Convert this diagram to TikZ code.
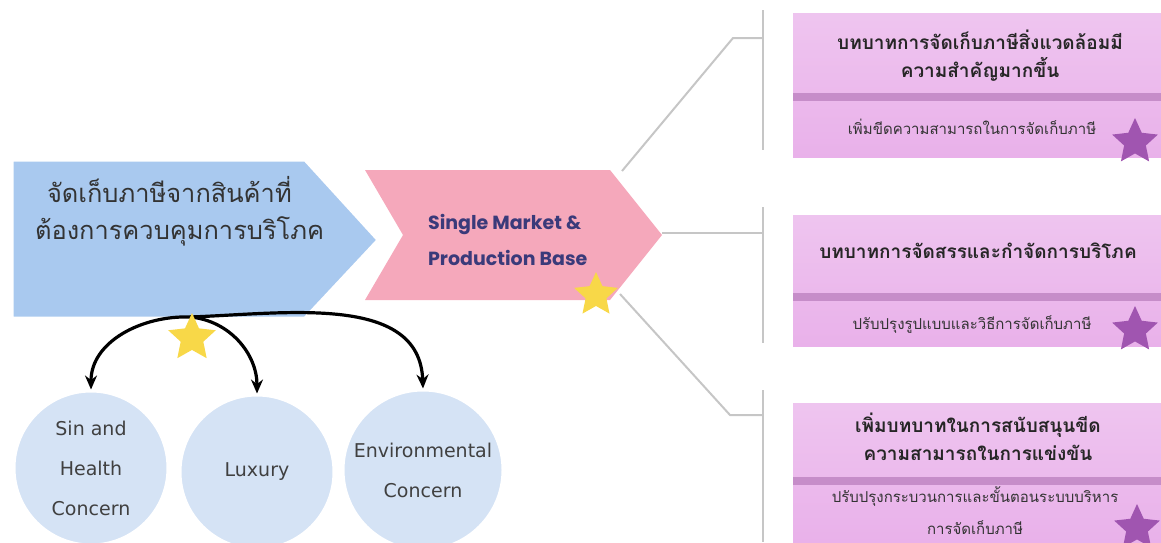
\documentclass[tikz,border=0pt]{standalone}
\usepackage{fontspec}
\setmainfont{DejaVu Sans}
\newfontfamily\thaifont[Script=Thai]{Loma}
\newfontfamily\headfont{Poppins}
\usepackage{tikz}
\usetikzlibrary{arrows.meta,shapes.geometric}
\definecolor{boxblue}{HTML}{A9C9EF}
\definecolor{chevpink}{HTML}{F5A8BB}
\definecolor{rolepink}{HTML}{E9B1EA}
\definecolor{rolebar}{HTML}{C68DC9}
\definecolor{starpurple}{HTML}{A055B0}
\definecolor{staryellow}{HTML}{F8D848}
\definecolor{linkgray}{HTML}{C6C6C6}
\definecolor{circblue}{HTML}{D5E3F5}
\definecolor{navy}{HTML}{3A3A7A}
\tikzset{
	bubble/.style={circle, fill=circblue, draw=white, line width=1.5pt, minimum size=77pt, inner sep=0pt, align=center, text=black!75, font=\fontsize{9.5}{20}\selectfont},
	goldstar/.style={star, star points=5, star point ratio=2.1, fill=staryellow, minimum size=25pt, inner sep=0pt},
	plumstar/.style={goldstar, fill=starpurple, minimum size=24pt},
	link/.style={draw=linkgray, line width=1pt},
	curl/.style={line width=1.6pt, -{Stealth[length=7pt,width=6pt]}},
	rolehead/.style={align=center, text=black!85, font=\thaifont\bfseries\fontsize{9.5}{14}\selectfont},
	rolesub/.style={align=center, text=black!80, font=\thaifont\fontsize{7.5}{16}\selectfont},
}
% one pink box on the right: #1 top, #2 bottom, #3 bar
\newcommand{\rolebox}[3]{
	\fill[top color=rolepink!75!white, bottom color=rolepink] (793,#1) rectangle (1161,#2);
	\fill[rolebar] (793,#3) rectangle (1161,#3+8);
}

\begin{document}
\begin{tikzpicture}[x=0.5pt,y=-0.5pt]
	\useasboundingbox (0,0) rectangle (1161,542);

	% left: blue arrow
	\filldraw[fill=boxblue, draw=white, line width=1.5pt] (12,160) -- (305,160) -- (378,240) -- (305,318) -- (12,318) -- cycle;
	\node[align=left, anchor=west, text=black!80, font=\thaifont\fontsize{12.7}{18.5}\selectfont] (taxText) at (28,211)
		{\hspace*{6pt}จัดเก็บภาษีจากสินค้าที่\\ต้องการควบคุมการบริโภค};

	% middle: pink chevron
	\fill[chevpink] (365,170) -- (610,170) -- (662,235) -- (610,300) -- (365,300) -- (403,235) -- cycle;
	\node[align=left, anchor=west, text=navy, font=\headfont\bfseries\fontsize{9.5}{18}\selectfont] (chevText) at (421,240)
		{Single Market \&\\Production Base};

	% circles
	\node[bubble] (sin) at (91,468) {Sin and\\Health\\Concern};
	\node[bubble] (lux) at (257,472) {Luxury};
	\node[bubble, minimum size=80pt] (env) at (423,470) {Environmental\\Concern};

	\coordinate (root) at (190,317);
	\draw[curl] (root) to[out=178,in=90] (sin.north);
	\draw[curl] (root) to[out=-5,in=90] (lux.north);
	\draw[curl] (root) to[out=2,in=92] (env.north);

	\node[goldstar] (starA) at (192,338) {};
	\node[goldstar, minimum size=23pt] (starB) at (596,295) {};

	% links to the right
	\coordinate (chevUp) at (622,171);
	\coordinate (chevTip) at (662,233);
	\coordinate (chevDown) at (620,294);
	\coordinate (forkA) at (733,38);
	\coordinate (forkC) at (730,415);
	\coordinate (barA) at (763,38);
	\coordinate (barB) at (763,233);
	\coordinate (barC) at (763,415);
	\draw[link] (chevUp) -- (forkA) -- (barA);
	\draw[link] (chevTip) -- (barB);
	\draw[link] (chevDown) -- (forkC) -- (barC);
	\draw[link] (763,10) -- (763,150);
	\draw[link] (763,207) -- (763,343);
	\draw[link] (763,390) -- (763,542);

	% boxes
	\rolebox{13}{157}{93}
	\rolebox{215}{346}{293}
	\rolebox{403}{542}{477}

	\node[rolehead] (roleA) at (980,56) {บทบาทการจัดเก็บภาษีสิ่งแวดล้อมมี\\ความสำคัญมากขึ้น};
	\node[rolesub] (subA) at (972,127) {เพิ่มขีดความสามารถในการจัดเก็บภาษี};
	\node[rolehead] (roleB) at (978,251) {บทบาทการจัดสรรและกำจัดการบริโภค};
	\node[rolesub] (subB) at (972,325) {ปรับปรุงรูปแบบและวิธีการจัดเก็บภาษี};
	\node[rolehead] (roleC) at (978,437) {เพิ่มบทบาทในการสนับสนุนขีด\\ความสามารถในการแข่งขัน};
	\node[rolesub] (subC) at (975,511) {ปรับปรุงกระบวนการและขั้นตอนระบบบริหาร\\การจัดเก็บภาษี};

	\node[plumstar] (plumA) at (1135,142) {};
	\node[plumstar] (plumB) at (1135,330) {};
	\node[plumstar] (plumC) at (1137,528) {};
\end{tikzpicture}
\end{document}
